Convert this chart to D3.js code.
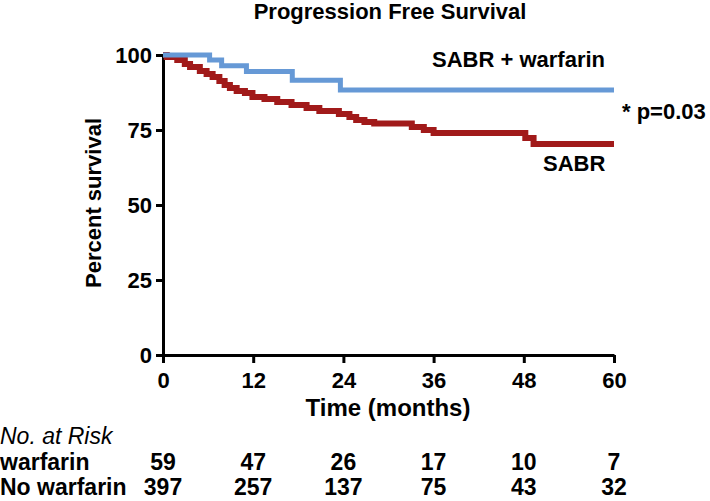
<!DOCTYPE html>
<html><head><meta charset="utf-8">
<script src="https://cdn.jsdelivr.net/npm/d3@7"></script>
<style>
html,body{margin:0;padding:0;background:#fff;}
svg{display:block;}
</style></head>
<body>
<svg id="chart" width="710" height="501"></svg>
<script>
// ---- data ----
const title = "Progression Free Survival";
const xTicks = [0, 12, 24, 36, 48, 60];
const yTicks = [0, 25, 50, 75, 100];
const xLabel = "Time (months)";
const yLabel = "Percent survival";

// SABR + warfarin (Kaplan-Meier steps: time in months, percent surviving)
const warfarinTime = [0, 6.2, 7.8, 11.1, 17.2, 23.6, 60];
const warfarinSurv = [100, 98.3, 96.4, 94.5, 91.6, 88.3, 88.3];

// SABR (no warfarin)
const sabrTime = [0, 0.5, 1.9, 2.9, 3.6, 4.9, 5.8, 6.6, 7.5, 8.2, 8.9, 9.8, 10.9, 11.9, 13.5, 15.2, 17.1, 19.1, 20.8, 23.4, 24.8, 25.7, 26.8, 28.1, 33.1, 34.7, 36.0, 48.2, 49.3, 60];
const sabrSurv = [100, 99.3, 98.3, 97.0, 96.0, 94.7, 93.7, 92.7, 91.3, 90.0, 89.0, 88.0, 87.3, 86.0, 85.3, 84.3, 83.3, 82.3, 81.3, 80.3, 79.3, 78.3, 77.7, 77.2, 76.0, 75.0, 74.0, 72.3, 70.3, 70.3];

const seriesNames = ["SABR + warfarin", "SABR"];
const pValue = "* p=0.03";

const riskTitle = "No. at Risk";
const riskGroups = ["warfarin", "No warfarin"];
const riskWarfarin = [59, 47, 26, 17, 10, 7];
const riskNoWarfarin = [397, 257, 137, 75, 43, 32];

// ---- drawing ----
const FONT = "'Liberation Sans',Arial,Helvetica,sans-serif";
const svg = d3.select("#chart");

const x = d3.scaleLinear().domain([0, 60]).range([163, 614]);
const y = d3.scaleLinear().domain([0, 100]).range([355, 55]);

function txt(px, py, s, size, opts = {}) {
  return svg.append("text").attr("x", px).attr("y", py)
    .attr("font-family", FONT).attr("font-size", size)
    .attr("font-weight", opts.weight || "bold")
    .attr("font-style", opts.style || "normal")
    .attr("text-anchor", opts.anchor || "start")
    .attr("fill", "#000").text(s);
}

// title
txt(390, 19, title, 22, {anchor: "middle"});

// axes
const xAxis = svg.append("g").attr("transform", `translate(0,${y(0)})`)
  .call(d3.axisBottom(x).tickValues(xTicks).tickSize(8).tickPadding(4).tickSizeOuter(0));
const yAxis = svg.append("g").attr("transform", `translate(${x(0)},0)`)
  .call(d3.axisLeft(y).tickValues(yTicks).tickSize(7).tickPadding(4).tickSizeOuter(0));
[xAxis, yAxis].forEach(g => {
  g.select(".domain").attr("stroke", "#000").attr("stroke-width", 3);
  g.selectAll(".tick line").attr("stroke", "#000").attr("stroke-width", 3);
  g.selectAll(".tick text").attr("fill", "#000").attr("font-family", FONT)
    .attr("font-weight", "bold").attr("font-size", 22);
});
xAxis.selectAll(".tick text").attr("dy", "0.95em");
yAxis.selectAll(".tick text").attr("dy", "0.36em");

// axis labels
txt(388, 416, xLabel, 24, {anchor: "middle"});
svg.append("text").attr("transform", `translate(101,${y(50) - 2}) rotate(-90)`)
  .attr("text-anchor", "middle").attr("font-family", FONT)
  .attr("font-weight", "bold").attr("font-size", 22).text(yLabel);

// curves
const line = d3.line().x(d => x(d[0])).y(d => y(d[1])).curve(d3.curveStepAfter);
const sabrData = sabrTime.map((t, i) => [t, sabrSurv[i]]);
const warfData = warfarinTime.map((t, i) => [t, warfarinSurv[i]]);
svg.append("path").datum(sabrData).attr("d", line)
  .attr("fill", "none").attr("stroke", "#a11a1a").attr("stroke-width", 6);
svg.append("path").datum(warfData).attr("d", line)
  .attr("fill", "none").attr("stroke", "#6699d6").attr("stroke-width", 5);

// series labels
txt(432, 67, seriesNames[0], 22);
txt(543, 171, seriesNames[1], 22);
txt(622, 119, pValue, 22);

// risk table
txt(0, 444, riskTitle, 23, {weight: "normal", style: "italic"});
const rows = [riskWarfarin, riskNoWarfarin];
const rowY = [470, 495];
rows.forEach((vals, r) => {
  txt(0, rowY[r], riskGroups[r], 23);
  svg.selectAll(null).data(vals).enter().append("text")
    .attr("x", (d, i) => x(xTicks[i])).attr("y", rowY[r]).attr("text-anchor", "middle")
    .attr("font-family", FONT).attr("font-weight", "bold").attr("font-size", 23)
    .attr("fill", "#000").text(d => d);
});
</script>
</body></html>
